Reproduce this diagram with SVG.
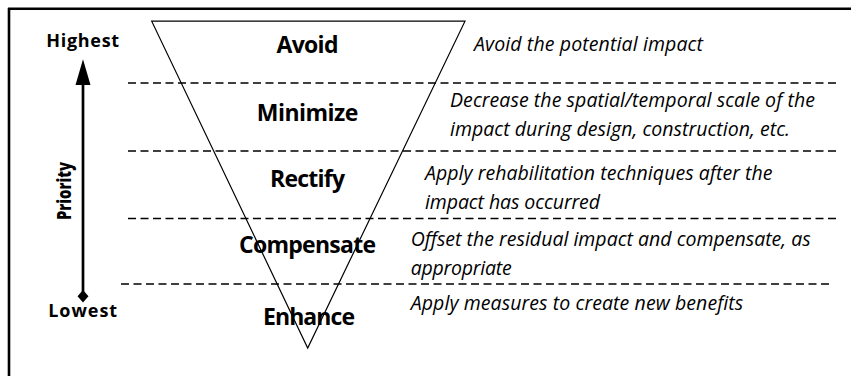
<svg xmlns="http://www.w3.org/2000/svg" width="851" height="376" viewBox="0 0 851 376">
<style>
.lvl{font-family:"Open Sans",Lato,"Liberation Sans",sans-serif;font-weight:bold;font-size:23px;fill:#000;text-anchor:middle}
.desc{font-family:"Open Sans",Lato,"Liberation Sans",sans-serif;font-style:italic;font-size:19.5px;fill:#000}
.side{font-family:"Open Sans",Lato,"Liberation Sans",sans-serif;font-weight:bold;font-size:18px;fill:#000;text-anchor:middle}
.dash{stroke:#000;stroke-width:1.3;stroke-dasharray:8 4.5;fill:none}
</style>
<rect width="851" height="376" fill="#fff"/>
<g id="frame">
<path d="M8,8.7 H851 M9,8 V376" stroke="#000" stroke-width="2.6" fill="none"/>
</g>
<g id="connectors">
<line x1="128" y1="83" x2="837" y2="83" class="dash"/>
<line x1="128" y1="151" x2="837" y2="151" class="dash"/>
<line x1="128" y1="218.5" x2="837" y2="218.5" class="dash"/>
<line x1="121" y1="284" x2="830" y2="284" class="dash"/>
<line x1="83" y1="84" x2="83" y2="292" stroke="#000" stroke-width="2.7"/>
<path d="M83,59.3 L90.5,85 L75.5,85 Z" fill="#000"/>
<path d="M83,290 L88.5,296.3 L83,302.6 L77.5,296.3 Z" fill="#000"/>
</g>
<g id="triangle">
<path d="M151.7,21.2 L465,21.2 L307.7,348 Z" fill="none" stroke="#000" stroke-width="1.2"/>
</g>
<g id="avoid"><text class="lvl" x="307.5" y="52.7" textLength="62" lengthAdjust="spacing">Avoid</text><text class="desc" x="474" y="50.7" textLength="229" lengthAdjust="spacing">Avoid the potential impact</text></g>
<g id="minimize"><text class="lvl" x="307.5" y="120.7" textLength="101.5" lengthAdjust="spacing">Minimize</text><text class="desc" x="450" y="107.3" textLength="365" lengthAdjust="spacing">Decrease the spatial/temporal scale of the</text><text class="desc" x="450" y="136" textLength="340" lengthAdjust="spacing">impact during design, construction, etc.</text></g>
<g id="rectify"><text class="lvl" x="307.5" y="187.3" textLength="75" lengthAdjust="spacing">Rectify</text><text class="desc" x="425" y="180" textLength="347.5" lengthAdjust="spacing">Apply rehabilitation techniques after the</text><text class="desc" x="425" y="209" textLength="175" lengthAdjust="spacing">impact has occurred</text></g>
<g id="compensate"><text class="lvl" x="307.5" y="253.3" textLength="137" lengthAdjust="spacing">Compensate</text><text class="desc" x="410.7" y="246" textLength="400" lengthAdjust="spacing">Offset the residual impact and compensate, as</text><text class="desc" x="410.7" y="275" textLength="101" lengthAdjust="spacing">appropriate</text></g>
<g id="enhance"><text class="lvl" x="309" y="325" textLength="92" lengthAdjust="spacing">Enhance</text><text class="desc" x="410.7" y="310" textLength="332.5" lengthAdjust="spacing">Apply measures to create new benefits</text></g>
<g id="highest"><text class="side" x="82.7" y="47.3" textLength="73" lengthAdjust="spacing">Highest</text></g>
<g id="lowest"><text class="side" x="82.7" y="316.7" textLength="69" lengthAdjust="spacing">Lowest</text></g>
<g id="priority"><text class="side" transform="translate(71,191) rotate(-90)" x="0" y="0" textLength="58" lengthAdjust="spacingAndGlyphs" style="font-size:19px;font-weight:800">Priority</text></g>
</svg>
